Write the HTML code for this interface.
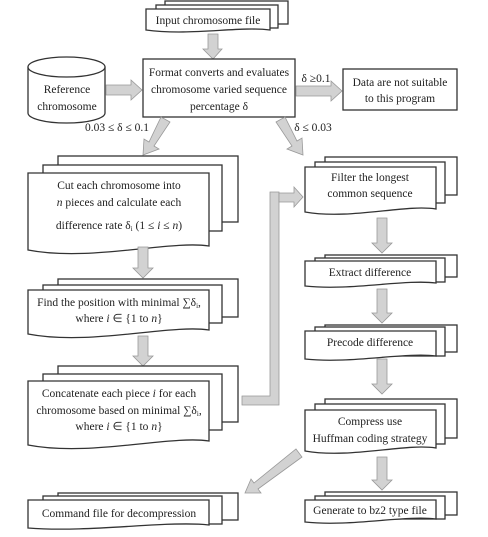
<!DOCTYPE html>
<html><head><meta charset="utf-8"><style>
html,body{margin:0;padding:0;background:#fff;}
svg{display:block;}
text{font-family:"Liberation Serif",serif;font-size:11.5px;fill:#222;text-anchor:middle;}
.b{fill:#fff;stroke:#333;stroke-width:1.3;}
.a{fill:#d2d2d2;stroke:#999;stroke-width:0.8;}
</style></head><body>
<svg width="488" height="537" viewBox="0 0 488 537" xmlns="http://www.w3.org/2000/svg">
<!-- Input chromosome file -->
<rect class="b" x="165" y="1" width="123" height="23"/>
<rect class="b" x="156" y="5" width="122" height="23"/>
<path class="b" d="M146 9 H270 V30 C240 26 190 36 146 30 Z"/>
<text x="208" y="24">Input chromosome file</text>
<path class="a" d="M208 34 H218 V49 H222 L213 59 L203 49 H208 Z"/>
<!-- Cylinder -->
<path class="b" d="M28 67 V113 A38.5 10 0 0 0 105 113 V67"/>
<ellipse class="b" cx="66.5" cy="67" rx="38.5" ry="10"/>
<text x="67" y="93">Reference</text>
<text x="67" y="110">chromosome</text>
<path class="a" d="M106 85 H131 V80 L142 90 L131 100 V95 H106 Z"/>
<!-- Format box -->
<rect class="b" x="143" y="59" width="152" height="58"/>
<text x="219" y="76">Format converts and evaluates</text>
<text x="219" y="93">chromosome varied sequence</text>
<text x="219" y="110">percentage δ</text>
<path class="a" d="M296 86 H331 V81 L342 91 L331 101 V96 H296 Z"/>
<text x="316" y="82">δ ≥0.1</text>
<rect class="b" x="343" y="69" width="114" height="41"/>
<text x="400" y="86">Data are not suitable</text>
<text x="400" y="102">to this program</text>
<text x="117" y="131">0.03 ≤ δ ≤ 0.1</text>
<path class="a" d="M161 117 L170 122 L154 146 L159 149 L143 155 L144 139 L149 142 Z"/>
<text x="313" y="131">δ ≤ 0.03</text>
<path class="a" d="M276 122 L285 117 L297 141 L302 138 L303 155 L287 149 L292 146 Z"/>
<!-- Left doc 1 -->
<rect class="b" x="58" y="156" width="180" height="66"/>
<rect class="b" x="43" y="165" width="179" height="66"/>
<path class="b" d="M28 173 H209 V246 C170 240 90 262 28 250 Z"/>
<text x="119" y="189">Cut each chromosome into</text>
<text x="119" y="206"><tspan font-style="italic">n</tspan> pieces and calculate each</text>
<text x="119" y="229">difference rate δ<tspan font-size="7" dy="2">i</tspan><tspan dy="-2">  (1 ≤ </tspan><tspan font-style="italic">i</tspan> ≤ <tspan font-style="italic">n</tspan>)</text>
<path class="a" d="M138 247 H148 V268 H153 L143 278 L133 268 H138 Z"/>
<!-- Left doc 2 -->
<rect class="b" x="58" y="279" width="180" height="38"/>
<rect class="b" x="43" y="285" width="179" height="38"/>
<path class="b" d="M28 290 H209 V330 C170 324 90 346 28 334 Z"/>
<text x="119" y="306">Find the position with minimal ∑δ<tspan font-size="7" dy="2">i</tspan><tspan dy="-2">,</tspan></text>
<text x="119" y="322">where  <tspan font-style="italic">i</tspan> ∈ {1 to <tspan font-style="italic">n</tspan>}</text>
<path class="a" d="M138 336 H148 V356 H153 L143 366 L133 356 H138 Z"/>
<!-- Left doc 3 -->
<rect class="b" x="58" y="366" width="180" height="56"/>
<rect class="b" x="43" y="374" width="179" height="56"/>
<path class="b" d="M28 381 H209 V441 C170 435 90 457 28 445 Z"/>
<text x="119" y="397">Concatenate each piece <tspan font-style="italic">i</tspan> for each</text>
<text x="119" y="414">chromosome based on minimal ∑δ<tspan font-size="7" dy="2">i</tspan><tspan dy="-2">,</tspan></text>
<text x="119" y="430">where  <tspan font-style="italic">i</tspan> ∈ {1 to <tspan font-style="italic">n</tspan>}</text>
<!-- connector -->
<path class="a" d="M242 396 H270 V192 H279 V405 H242 Z"/>
<path class="a" d="M279 193 H294 V187 L303 197 L294 207 V202 H279 Z"/>
<!-- Right docs -->
<rect class="b" x="325" y="157" width="132" height="38"/>
<rect class="b" x="315" y="162" width="130" height="41"/>
<path class="b" d="M305 167 H436 V209 C405 204 350 220 305 212 Z"/>
<text x="370" y="181">Filter the longest</text>
<text x="370" y="197">common sequence</text>
<path class="a" d="M377 218 H387 V243 H392 L382 253 L372 243 H377 Z"/>
<rect class="b" x="325" y="255" width="132" height="22"/>
<rect class="b" x="315" y="258" width="130" height="24"/>
<path class="b" d="M305 261 H436 V283 C405 279 350 291 305 286 Z"/>
<text x="370" y="276">Extract difference</text>
<path class="a" d="M377 289 H387 V313 H392 L382 323 L372 313 H377 Z"/>
<rect class="b" x="325" y="325" width="132" height="27"/>
<rect class="b" x="315" y="327" width="130" height="29"/>
<path class="b" d="M305 331 H436 V356 C405 352 350 364 305 359 Z"/>
<text x="370" y="346">Precode difference</text>
<path class="a" d="M377 359 H387 V384 H392 L382 394 L372 384 H377 Z"/>
<rect class="b" x="325" y="399" width="132" height="39"/>
<rect class="b" x="315" y="404" width="130" height="40"/>
<path class="b" d="M305 410 H436 V448 C405 443 350 459 305 451 Z"/>
<text x="370" y="425">Compress use</text>
<text x="370" y="442">Huffman coding strategy</text>
<path class="a" d="M377 457 H387 V480 H392 L382 490 L372 480 H377 Z"/>
<rect class="b" x="325" y="492" width="132" height="23"/>
<rect class="b" x="315" y="496" width="130" height="23"/>
<path class="b" d="M305 500 H436 V519 C405 515 350 527 305 522 Z"/>
<text x="370" y="514">Generate to bz2 type file</text>
<!-- diag arrow to command -->
<path class="a" d="M296 449 L302 457 L258 489 L261 493 L245 493 L251 479 L254 483 Z"/>
<rect class="b" x="58" y="493" width="180" height="27"/>
<rect class="b" x="43" y="496" width="179" height="28"/>
<path class="b" d="M28 500 H209 V525 C170 520 90 533 28 528 Z"/>
<text x="119" y="517">Command file for decompression</text>
</svg>
</body></html>
